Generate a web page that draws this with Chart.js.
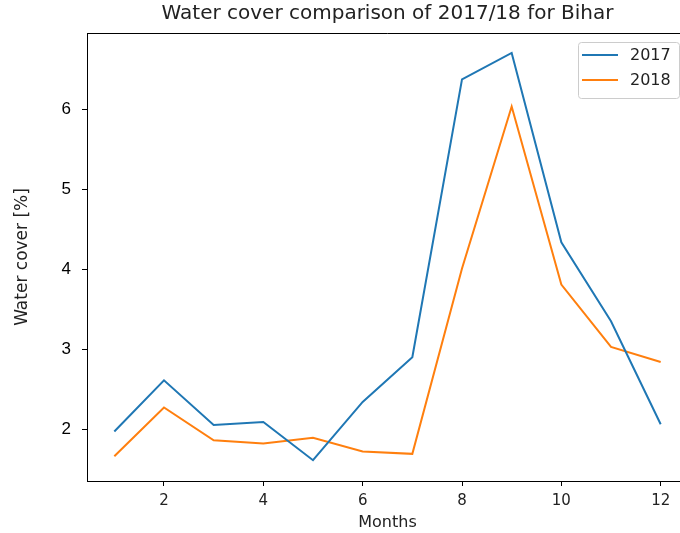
<!DOCTYPE html>
<html>
<head>
<meta charset="utf-8">
<script src="https://cdn.jsdelivr.net/npm/chart.js@4"></script>
<style>
  html, body { margin: 0; padding: 0; overflow: hidden; background: #fff; }
  #wrap { position: absolute; left: 0; top: 0; width: 775px; height: 533px; }
</style>
</head>
<body>
<div id="wrap"><canvas id="chart" width="775" height="533"></canvas></div>
<script>
// data
var months = [1, 2, 3, 4, 5, 6, 7, 8, 9, 10, 11, 12];
var cover2017 = [1.97, 2.61, 2.05, 2.09, 1.61, 2.34, 2.90, 6.38, 6.71, 4.34, 3.35, 2.06];
var cover2018 = [1.66, 2.27, 1.86, 1.82, 1.89, 1.72, 1.69, 4.01, 6.04, 3.81, 3.03, 2.84];
var xTicks = [2, 4, 6, 8, 10, 12];
var yTicks = [2, 3, 4, 5, 6];

function points(vals) {
    return months.map(function (m, i) { return { x: m, y: vals[i] }; });
}

// top/right frame lines + legend box in the upper right, matplotlib style
var framePlugin = {
    id: 'frame',
    afterDatasetsDraw: function (chart) {
        var a = chart.chartArea, ctx = chart.ctx;
        ctx.save();
        ctx.strokeStyle = '#000';
        ctx.lineWidth = 1;
        ctx.beginPath();
        ctx.moveTo(a.left, a.top + 0.5);
        ctx.lineTo(a.right - 0.5, a.top + 0.5);
        ctx.lineTo(a.right - 0.5, a.bottom);
        ctx.stroke();

        // legend
        var bx = a.right - 110, by = a.top + 9, bw = 101, bh = 56;
        ctx.fillStyle = 'rgba(255,255,255,0.8)';
        ctx.strokeStyle = '#ccc';
        ctx.beginPath();
        ctx.roundRect(bx + 0.5, by + 0.5, bw, bh, 3);
        ctx.fill();
        ctx.stroke();
        ctx.font = '16px "DejaVu Sans"';
        ctx.textBaseline = 'middle';
        chart.data.datasets.forEach(function (ds, i) {
            var y = by + 13 + i * 25;
            ctx.strokeStyle = ds.borderColor;
            ctx.lineWidth = 2;
            ctx.beginPath();
            ctx.moveTo(bx + 4, y);
            ctx.lineTo(bx + 40, y);
            ctx.stroke();
            ctx.fillStyle = '#222';
            ctx.fillText(ds.label, bx + 52, y + 1);
        });
        ctx.restore();
    }
};

new Chart(document.getElementById('chart').getContext('2d'), {
    type: 'line',
    data: {
        datasets: [{
            label: '2017',
            data: points(cover2017),
            borderColor: '#1f77b4',
            borderWidth: 2,
            pointRadius: 0,
            tension: 0,
            fill: false
        }, {
            label: '2018',
            data: points(cover2018),
            borderColor: '#ff7f0e',
            borderWidth: 2,
            pointRadius: 0,
            tension: 0,
            fill: false
        }]
    },
    options: {
        responsive: false,
        animation: false,
        layout: { padding: 0 },
        plugins: {
            legend: { display: false },
            tooltip: { enabled: false },
            title: {
                display: true,
                text: 'Water cover comparison of 2017/18 for Bihar',
                color: '#222',
                font: { family: 'DejaVu Sans', size: 20, weight: 'normal' },
                padding: { top: 2, bottom: 7 }
            }
        },
        scales: {
            x: {
                type: 'linear',
                min: 0.45,
                max: 12.55,
                afterBuildTicks: function (s) { s.ticks = xTicks.map(function (v) { return { value: v }; }); },
                afterFit: function (s) { s.height = 52; },
                border: { display: true, color: '#000', width: 1 },
                grid: { display: true, drawOnChartArea: false, drawTicks: true, tickLength: 5, color: '#000' },
                ticks: {
                    color: '#222',
                    padding: 6,
                    maxRotation: 0,
                    autoSkip: false,
                    font: { family: 'DejaVu Sans', size: 15 }
                },
                title: {
                    display: true,
                    text: 'Months',
                    color: '#222',
                    font: { family: 'DejaVu Sans', size: 16 },
                    padding: { top: 0, bottom: 1 }
                }
            },
            y: {
                type: 'linear',
                position: 'left',
                min: 1.35,
                max: 6.96,
                afterBuildTicks: function (s) { s.ticks = yTicks.map(function (v) { return { value: v }; }); },
                afterFit: function (s) { s.width = 87; },
                border: { display: true, color: '#000', width: 1 },
                grid: { display: true, drawOnChartArea: false, drawTicks: true, tickLength: 5, color: '#000' },
                ticks: {
                    color: '#000',
                    padding: 11,
                    font: { family: 'Liberation Sans', size: 17 }
                },
                title: {
                    display: true,
                    text: 'Water cover [%]',
                    color: '#222',
                    font: { family: 'DejaVu Sans', size: 17 },
                    padding: { top: 12, bottom: 0 }
                }
            },
            // empty right axis, only so the plot and title stay centred like the original
            yRight: {
                type: 'linear',
                position: 'right',
                display: true,
                afterFit: function (s) { s.width = 87; },
                border: { display: false },
                grid: { display: false },
                ticks: { display: false }
            }
        }
    },
    plugins: [framePlugin]
});
</script>
</body>
</html>
